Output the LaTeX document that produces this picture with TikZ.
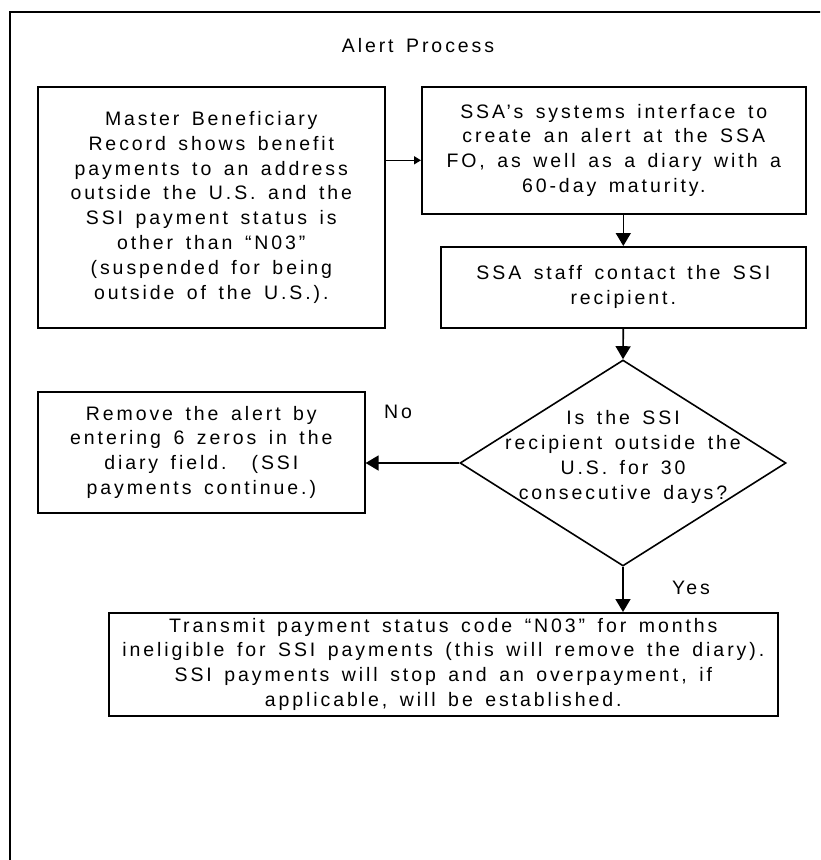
\documentclass[tikz,border=0pt]{standalone}
\usepackage{fontspec}
\setmainfont{Liberation Sans}[LetterSpace=15,WordSpace=1.5]
\usetikzlibrary{shapes.geometric,positioning,arrows.meta}
\tikzstyle{proc}=[rectangle,fill=white,draw=black,line width=1.6pt,anchor=north west,inner sep=0pt,align=center,font=\fontsize{19.5}{24.8}\selectfont]
\tikzstyle{decision}=[diamond,fill=white,draw=black,line width=1.6pt,minimum width=326pt,minimum height=206pt,inner sep=0pt]
\tikzstyle{plain}=[align=center,font=\fontsize{19.5}{24.8}\selectfont]
\tikzstyle{mypath}=[line width=1.6pt,-{Triangle[length=13pt,width=15pt]}]
\tikzstyle{smallpath}=[line width=1.6pt,-{Triangle[length=7pt,width=8pt]}]
\begin{document}
\begin{tikzpicture}[x=1pt,y=-1pt]
		\useasboundingbox (0,0) rectangle (820,860);
		\clip (0,0) rectangle (820,860);
		% frame and title
		\draw[line width=2.8pt] (830,12) -- (10,12) -- (10,870);
		\node[plain] (title) at (418,46) {Alert Process};

		% boxes
		\node[proc,minimum width=347pt,minimum height=241pt] (master) at (37,86) {Master Beneficiary\\Record shows benefit\\payments to an address\\outside the U.S. and the\\SSI payment status is\\other than “N03”\\(suspended for being\\outside of the U.S.).};
		\node[proc,minimum width=384pt,minimum height=127pt] (alert) at (421,86) {SSA’s systems interface to\\create an alert at the SSA\\FO, as well as a diary with a\\60-day maturity.};
		\node[proc,minimum width=365pt,minimum height=81pt] (contact) at (440,246) {SSA staff contact the SSI\\recipient.};
		\node[proc,minimum width=327pt,minimum height=121pt] (remove) at (37,391) {Remove the alert by\\entering 6 zeros in the\\diary field.\ \ (SSI\\payments continue.)};
		\node[proc,minimum width=669pt,minimum height=103pt] (transmit) at (108,612) {Transmit payment status code “N03” for months\\ineligible for SSI payments (this will remove the diary).\\SSI payments will stop and an overpayment, if\\applicable, will be established.};

		% decision
		\node[decision] (check) at (623,463) {};
		\node[plain] (question) at ([yshift=6pt]check.center) {Is the SSI\\recipient outside the\\U.S. for 30\\consecutive days?};

		% answers
		\node[plain] (no) at (398,412) {No};
		\node[plain] (yes) at (691,588) {Yes};

		% Connections
		\draw[smallpath] ([yshift=47pt]master.east) coordinate (m) -- (m -| alert.west);
		\draw[mypath] (alert.south -| contact.north) -- (contact.north);
		\draw[mypath] (contact.south) -- (check.north);
		\draw[mypath] (check.west) -- (check.west -| remove.east);
		\draw[mypath] (check.south) -- (check.south |- transmit.north);
	\end{tikzpicture}
\end{document}
